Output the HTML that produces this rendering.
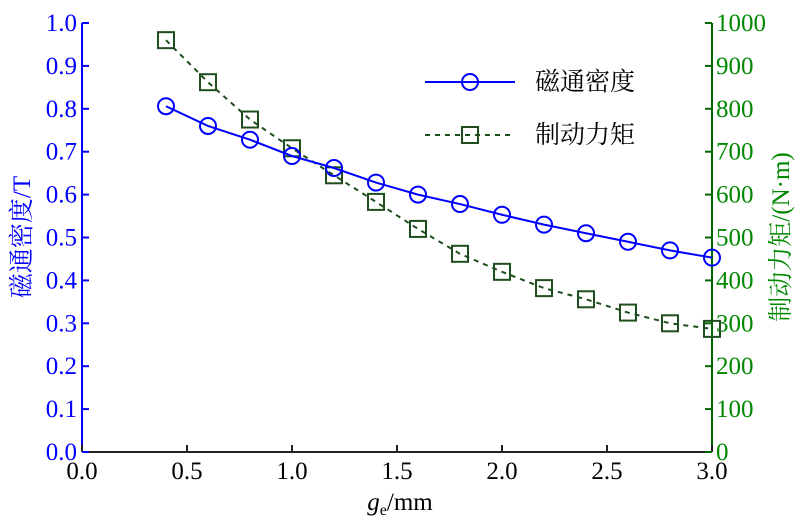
<!DOCTYPE html>
<html><head><meta charset="utf-8"><style>
body{margin:0;background:#fff}
svg text{font-family:"Liberation Serif","Noto Serif CJK SC",serif}
</style></head><body>
<svg id="c" width="800" height="520" xmlns="http://www.w3.org/2000/svg"></svg>
<script>
const xs=[0.4,0.6,0.8,1.0,1.2,1.4,1.6,1.8,2.0,2.2,2.4,2.6,2.8,3.0];
const flux=[0.806,0.76,0.728,0.69,0.662,0.628,0.60,0.578,0.553,0.53,0.51,0.49,0.47,0.453];
const torque=[960,862,775,708,645,583,520,462,420,382,356,325,300,287];
const xTicks=[0,0.5,1,1.5,2,2.5,3];
const yTicks=[0,0.1,0.2,0.3,0.4,0.5,0.6,0.7,0.8,0.9,1.0];
const y2Ticks=[0,100,200,300,400,500,600,700,800,900,1000];
const L=82,R=712,T=23,B=452;
const X=v=>L+v/3*(R-L), Y=v=>B-v*(B-T), Y2=v=>B-v/1000*(B-T);
const s=document.getElementById('c');const NS='http://www.w3.org/2000/svg';
function mk(t,a,txt){const e=document.createElementNS(NS,t);for(const k in a)e.setAttribute(k,a[k]);if(txt!==undefined)e.textContent=txt;s.appendChild(e);return e;}
let e;
e=mk('line',{x1:L,y1:B,x2:R,y2:B,stroke:'#222','stroke-width':2});

e=mk('line',{x1:L,y1:T,x2:L,y2:B,stroke:'#00f','stroke-width':2});

e=mk('line',{x1:R,y1:T,x2:R,y2:B,stroke:'#060','stroke-width':2});

mk('line',{x1:L,y1:T,x2:L+7,y2:T,stroke:'#222','stroke-width':2});
xTicks.forEach(v=>{mk('line',{x1:X(v),y1:B,x2:X(v),y2:B-7,stroke:'#222','stroke-width':2});
e=mk('text',{x:X(v),y:B+27,'text-anchor':'middle','font-size':25,fill:'#000'},v.toFixed(1));
});
yTicks.forEach(v=>{mk('line',{x1:L,y1:Y(v),x2:L+7,y2:Y(v),stroke:'#00f','stroke-width':2});
e=mk('text',{x:L-5,y:Y(v)+8,'text-anchor':'end','font-size':25,fill:'#00f'},v.toFixed(1));
});
y2Ticks.forEach(v=>{mk('line',{x1:R,y1:Y2(v),x2:R-7,y2:Y2(v),stroke:'#060','stroke-width':2});
e=mk('text',{x:R+4,y:Y2(v)+8,'font-size':25,fill:'#080'},String(v));
});
e=mk('text',{x:400,y:510,'text-anchor':'middle','font-size':25,fill:'#000'});
e.innerHTML='<tspan font-style="italic">g</tspan><tspan font-size="16" dy="5">e</tspan><tspan dy="-5">/mm</tspan>';

e=mk('text',{transform:'translate(30,237) rotate(-90)','text-anchor':'middle','font-size':25,fill:'#00f'},'磁通密度/T');

e=mk('text',{transform:'translate(789,237) rotate(-90)','text-anchor':'middle','font-size':25,fill:'#080'},'制动力矩/(N·m)');

e=mk('polyline',{points:xs.map((x,i)=>X(x)+','+Y2(torque[i])).join(' '),fill:'none',stroke:'#1e4d1e','stroke-width':2,'stroke-dasharray':'5,5'});

xs.forEach((x,i)=>{e=mk('rect',{x:X(x)-8,y:Y2(torque[i])-8,width:16,height:16,fill:'none',stroke:'#1e4d1e','stroke-width':2});
});
e=mk('polyline',{points:xs.map((x,i)=>X(x)+','+Y(flux[i])).join(' '),fill:'none',stroke:'#00f','stroke-width':2});

xs.forEach((x,i)=>{e=mk('circle',{cx:X(x),cy:Y(flux[i]),r:8,fill:'none',stroke:'#00f','stroke-width':2});
});
e=mk('line',{x1:425,y1:82,x2:515,y2:82,stroke:'#00f','stroke-width':2});

mk('circle',{cx:470,cy:82,r:8,fill:'none',stroke:'#00f','stroke-width':2});
e=mk('text',{x:535,y:90,'font-size':25,fill:'#000'},'磁通密度');

e=mk('line',{x1:425,y1:135,x2:515,y2:135,stroke:'#1e4d1e','stroke-width':2,'stroke-dasharray':'5,5'});

mk('rect',{x:462,y:127,width:16,height:16,fill:'none',stroke:'#1e4d1e','stroke-width':2});
e=mk('text',{x:535,y:143,'font-size':25,fill:'#000'},'制动力矩');

</script>
</body></html>
